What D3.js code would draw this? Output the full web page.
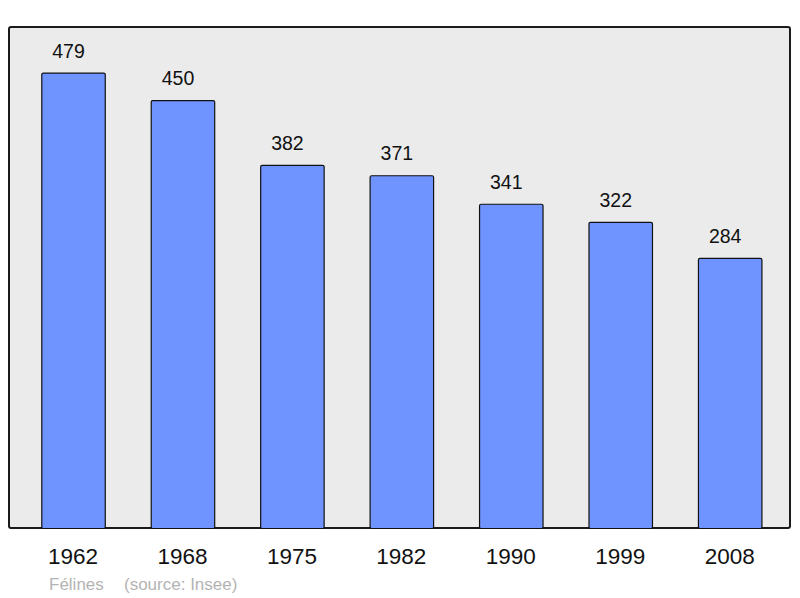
<!DOCTYPE html>
<html>
<head>
<meta charset="utf-8">
<script src="https://cdn.jsdelivr.net/npm/d3@7"></script>
<style>
  body { margin: 0; background: #fff; }
  text { font-family: "Liberation Sans", Arial, sans-serif; }
</style>
</head>
<body>
<div id="viz"></div>
<script>
var years = ["1962", "1968", "1975", "1982", "1990", "1999", "2008"];
var population = [479, 450, 382, 371, 341, 322, 284];
var commune = "Félines";
var source = "(source: Insee)";

var width = 800
var height = 598

var svg = d3.select("#viz")
    .append("svg")
    .attr("width", width)
    .attr("height", height);

// plot frame
svg.append("rect")
    .attr("x", 9)
    .attr("y", 27)
    .attr("width", 781)
    .attr("height", 501)
    .attr("rx", 2)
    .attr("fill", "#ebebeb")
    .attr("stroke", "#1a1a1a")
    .attr("stroke-width", 2);

var x = d3.scaleBand()
    .domain(years)
    .range([18.3, 784.4])
    .paddingInner(0.42)
    .paddingOuter(0.21);

var y = d3.scaleLinear()
    .domain([0, 479 * 1.1])
    .range([528, 27]);

var bars = svg.append("g")
    .selectAll("g")
    .data(years)
    .enter().append("g");

bars.append("rect")
    .attr("x", d => x(d) + 0.5)
    .attr("y", (d, i) => y(population[i]) + 0.5)
    .attr("width", x.bandwidth())
    .attr("height", (d, i) => y(0) - y(population[i]))
    .attr("rx", 1.5)
    .attr("fill", "#7094ff")
    .attr("stroke", "#111")
    .attr("stroke-width", 1.2);

// value labels (sit a bit left of the bar centre, as in the original)
bars.append("text")
    .attr("x", d => x(d) + x.bandwidth() / 2 - 4.5)
    .attr("y", (d, i) => y(population[i]) - 15)
    .attr("text-anchor", "middle")
    .attr("font-size", 19.5)
    .attr("fill", "#111")
    .text((d, i) => population[i]);

// year labels
bars.append("text")
    .attr("x", d => x(d) + x.bandwidth() / 2)
    .attr("y", 564)
    .attr("text-anchor", "middle")
    .attr("font-size", 22.5)
    .attr("fill", "#111")
    .text(d => d);

svg.append("text")
    .attr("x", 49)
    .attr("y", 590)
    .attr("font-size", 17)
    .attr("fill", "#b3b3b3")
    .text(commune);

svg.append("text")
    .attr("x", 124)
    .attr("y", 590)
    .attr("font-size", 17)
    .attr("fill", "#b3b3b3")
    .text(source);
</script>
</body>
</html>
